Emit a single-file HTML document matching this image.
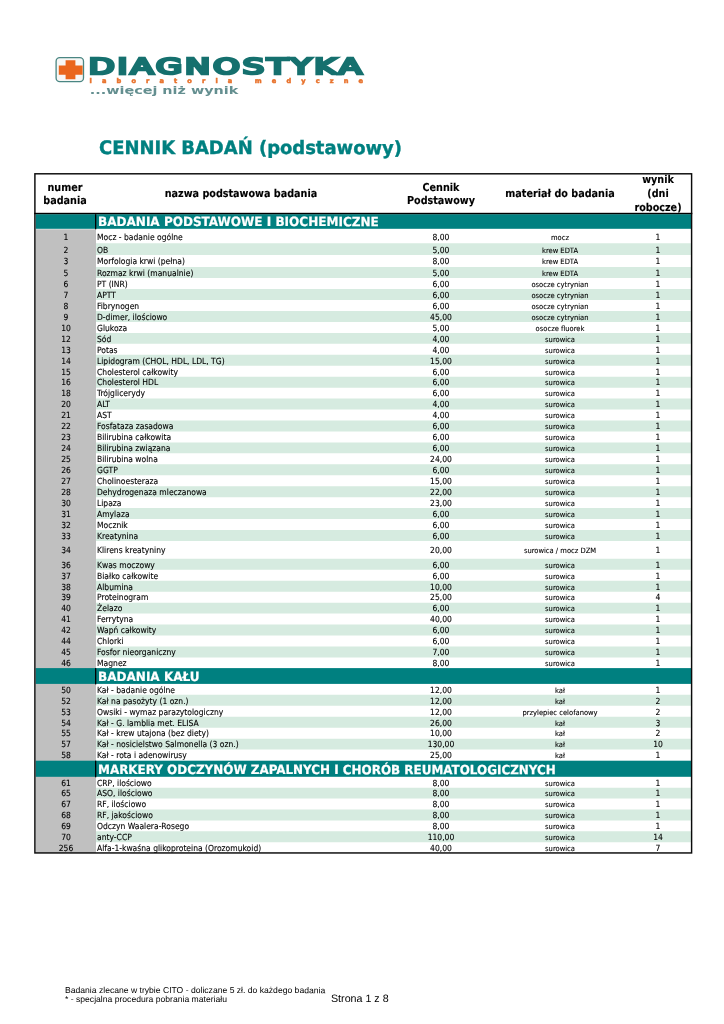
<!DOCTYPE html>
<html lang="pl"><head><meta charset="utf-8"><title>Cennik badań (podstawowy)</title>
<style>
*{margin:0;padding:0;box-sizing:border-box}
html,body{width:724px;height:1024px;background:#fff;overflow:hidden}
body{position:relative;font-family:'DejaVu Sans Condensed','Liberation Sans',sans-serif;color:#000}
#pg{position:absolute;left:0;top:0;width:724px;height:1024px;will-change:transform}
.a{position:absolute}
.t{position:absolute;white-space:nowrap;line-height:1;transform-origin:0 0}
.c{transform-origin:50% 0}
.g{position:absolute;background:#d6ebe0}
.s{position:absolute;background:#008080}
.k{position:absolute;background:#000}
.f0{font-family:'DejaVu Sans Condensed','Liberation Sans',sans-serif;font-weight:bold;font-size:18.6px;color:#008080;-webkit-text-stroke:0.35px #008080}
.f1{font-family:'DejaVu Sans Condensed','Liberation Sans',sans-serif;font-weight:bold;font-size:10.95px;color:#000;-webkit-text-stroke:0.12px #000}
.f2{font-family:'DejaVu Sans Condensed','Liberation Sans',sans-serif;font-weight:bold;font-size:12.75px;color:#fff;-webkit-text-stroke:0.2px #fff}
.f3{font-family:'DejaVu Sans Condensed','Liberation Sans',sans-serif;font-weight:normal;font-size:8.5px;color:#000;-webkit-text-stroke:0.1px #000}
.f4{font-family:'DejaVu Sans Condensed','Liberation Sans',sans-serif;font-weight:normal;font-size:7.3px;color:#000;-webkit-text-stroke:0.1px #000}
.f5{font-family:'Liberation Sans',sans-serif;font-weight:normal;font-size:8.6px;color:#000}
.f6{font-family:'Liberation Sans',sans-serif;font-weight:normal;font-size:10.7px;color:#000}
</style></head>
<body><div id="pg">
<!-- logo -->
<svg class="a" style="left:50px;top:50px" width="330" height="52" viewBox="0 0 330 52">
  <rect x="6.1" y="7.7" width="27.4" height="23.9" rx="3.6" ry="3.6" fill="#f7f7f5" stroke="#4a8683" stroke-width="1.3"/>
  <path d="M15.6 10.2h9.8v5.2h7.2v9.4h-7.2v4.4h-9.8v-4.4H8.8v-9.4h6.8z" fill="#ea661c"/>
  <text x="38.7" y="23.5" font-family="'DejaVu Sans','Liberation Sans',sans-serif" font-weight="normal" font-size="20.8" fill="#15706e" stroke="#15706e" stroke-width="2.7" stroke-linejoin="miter" letter-spacing="1.9" textLength="276.2" lengthAdjust="spacingAndGlyphs">DIAGNOSTYKA</text>
  <text x="39.6" y="32.5" font-family="'DejaVu Sans','Liberation Sans',sans-serif" font-weight="bold" font-size="6.6" fill="#e8722c" stroke="#e8722c" stroke-width="0.5" textLength="273.5" lengthAdjust="spacing">laboratoria medyczne</text>
  <text x="39.8" y="43.5" font-family="'DejaVu Sans','Liberation Sans',sans-serif" font-weight="bold" font-size="10.4" fill="#648f90" textLength="148.5" lengthAdjust="spacingAndGlyphs">...więcej niż wynik</text>
</svg>

<svg class="a" style="left:0;top:0" width="724" height="1024" viewBox="0 0 724 1024"><rect x="35.7" y="229.3" width="60.30" height="623.70" fill="#c0c0c0"/><path d="M96.0 243.30H690.9v11.60H96.0zM96.0 266.90H690.9v11.00H96.0zM96.0 289.10H690.9v10.95H96.0zM96.0 311.00H690.9v10.95H96.0zM96.0 332.90H690.9v10.95H96.0zM96.0 354.80H690.9v10.95H96.0zM96.0 376.70H690.9v10.95H96.0zM96.0 398.60H690.9v10.95H96.0zM96.0 420.50H690.9v10.95H96.0zM96.0 442.40H690.9v10.95H96.0zM96.0 464.30H690.9v10.95H96.0zM96.0 486.20H690.9v10.95H96.0zM96.0 508.10H690.9v10.95H96.0zM96.0 530.00H690.9v10.95H96.0zM96.0 558.85H690.9v10.95H96.0zM96.0 580.75H690.9v10.95H96.0zM96.0 602.65H690.9v10.95H96.0zM96.0 624.55H690.9v10.95H96.0zM96.0 646.45H690.9v10.95H96.0zM96.0 694.85H690.9v10.95H96.0zM96.0 716.75H690.9v10.95H96.0zM96.0 738.65H690.9v10.95H96.0zM96.0 787.70H690.9v10.90H96.0zM96.0 809.50H690.9v10.90H96.0zM96.0 831.30H690.9v10.90H96.0z" fill="#d6ebe0"/><rect x="35.7" y="214.20" width="655.40" height="14.60" fill="#008080"/><rect x="95.0" y="214.20" width="1.3" height="15.10" fill="#000"/><rect x="35.7" y="668.10" width="655.40" height="15.80" fill="#008080"/><rect x="95.0" y="668.10" width="1.3" height="16.30" fill="#000"/><rect x="35.7" y="760.70" width="655.40" height="16.10" fill="#008080"/><rect x="95.0" y="760.70" width="1.3" height="16.60" fill="#000"/><rect x="34.90" y="173.8" width="656.70" height="679.15" fill="none" stroke="#0a0a0a" stroke-width="1.45"/><rect x="34.2" y="212.8" width="658.10" height="1.4" fill="#000"/></svg>
<div class="t f0" style="left:98.6px;top:139px;transform:rotate(.03deg) scaleX(1.073)">CENNIK BADAŃ (podstawowy)</div>
<div class="t c f1" style="left:65.1px;top:183px;transform:translateX(-50%) rotate(.03deg) scaleX(0.978)">numer</div>
<div class="t c f1" style="left:65.1px;top:196px;transform:translateX(-50%) rotate(.03deg) scaleX(0.978)">badania</div>
<div class="t c f1" style="left:241.3px;top:189px;transform:translateX(-50%) rotate(.03deg) scaleX(0.978)">nazwa podstawowa badania</div>
<div class="t c f1" style="left:441.0px;top:183px;transform:translateX(-50%) rotate(.03deg) scaleX(0.978)">Cennik</div>
<div class="t c f1" style="left:441.0px;top:196px;transform:translateX(-50%) rotate(.03deg) scaleX(0.978)">Podstawowy</div>
<div class="t c f1" style="left:559.7px;top:189px;transform:translateX(-50%) rotate(.03deg) scaleX(0.978)">materiał do badania</div>
<div class="t c f1" style="left:658.4px;top:175px;transform:translateX(-50%) rotate(.03deg) scaleX(0.978)">wynik</div>
<div class="t c f1" style="left:658.4px;top:189px;transform:translateX(-50%) rotate(.03deg) scaleX(0.978)">(dni</div>
<div class="t c f1" style="left:658.4px;top:203px;transform:translateX(-50%) rotate(.03deg) scaleX(0.978)">robocze)</div>
<div class="t f2" style="left:98.0px;top:216px;transform:rotate(.03deg) scaleX(1.05)">BADANIA PODSTAWOWE I BIOCHEMICZNE</div>
<div class="t f2" style="left:98.0px;top:671px;transform:rotate(.03deg) scaleX(1.05)">BADANIA KAŁU</div>
<div class="t f2" style="left:98.0px;top:764px;transform:rotate(.03deg) scaleX(1.042)">MARKERY ODCZYNÓW ZAPALNYCH I CHORÓB REUMATOLOGICZNYCH</div>
<div class="t c f3" style="left:65.6px;top:233px;transform:translateX(-50%) rotate(.03deg) scaleX(0.995)">1</div>
<div class="t f3" style="left:96.9px;top:233px;transform:rotate(.03deg) scaleX(0.995)">Mocz - badanie ogólne</div>
<div class="t c f3" style="left:441.0px;top:233px;transform:translateX(-50%) rotate(.03deg) scaleX(0.995)">8,00</div>
<div class="t c f4" style="left:559.7px;top:234px;transform:translateX(-50%) rotate(.03deg) scaleX(1.03)">mocz</div>
<div class="t c f3" style="left:658.4px;top:233px;transform:translateX(-50%) rotate(.03deg) scaleX(0.995)">1</div>
<div class="t c f3" style="left:65.6px;top:246px;transform:translateX(-50%) rotate(.03deg) scaleX(0.995)">2</div>
<div class="t f3" style="left:96.9px;top:246px;transform:rotate(.03deg) scaleX(0.995)">OB</div>
<div class="t c f3" style="left:441.0px;top:246px;transform:translateX(-50%) rotate(.03deg) scaleX(0.995)">5,00</div>
<div class="t c f4" style="left:559.7px;top:247px;transform:translateX(-50%) rotate(.03deg) scaleX(1.03)">krew EDTA</div>
<div class="t c f3" style="left:658.4px;top:246px;transform:translateX(-50%) rotate(.03deg) scaleX(0.995)">1</div>
<div class="t c f3" style="left:65.6px;top:257px;transform:translateX(-50%) rotate(.03deg) scaleX(0.995)">3</div>
<div class="t f3" style="left:96.9px;top:257px;transform:rotate(.03deg) scaleX(0.995)">Morfologia krwi (pełna)</div>
<div class="t c f3" style="left:441.0px;top:257px;transform:translateX(-50%) rotate(.03deg) scaleX(0.995)">8,00</div>
<div class="t c f4" style="left:559.7px;top:258px;transform:translateX(-50%) rotate(.03deg) scaleX(1.03)">krew EDTA</div>
<div class="t c f3" style="left:658.4px;top:257px;transform:translateX(-50%) rotate(.03deg) scaleX(0.995)">1</div>
<div class="t c f3" style="left:65.6px;top:269px;transform:translateX(-50%) rotate(.03deg) scaleX(0.995)">5</div>
<div class="t f3" style="left:96.9px;top:269px;transform:rotate(.03deg) scaleX(0.995)">Rozmaz krwi (manualnie)</div>
<div class="t c f3" style="left:441.0px;top:269px;transform:translateX(-50%) rotate(.03deg) scaleX(0.995)">5,00</div>
<div class="t c f4" style="left:559.7px;top:270px;transform:translateX(-50%) rotate(.03deg) scaleX(1.03)">krew EDTA</div>
<div class="t c f3" style="left:658.4px;top:269px;transform:translateX(-50%) rotate(.03deg) scaleX(0.995)">1</div>
<div class="t c f3" style="left:65.6px;top:280px;transform:translateX(-50%) rotate(.03deg) scaleX(0.995)">6</div>
<div class="t f3" style="left:96.9px;top:280px;transform:rotate(.03deg) scaleX(0.995)">PT (INR)</div>
<div class="t c f3" style="left:441.0px;top:280px;transform:translateX(-50%) rotate(.03deg) scaleX(0.995)">6,00</div>
<div class="t c f4" style="left:559.7px;top:281px;transform:translateX(-50%) rotate(.03deg) scaleX(1.03)">osocze cytrynian</div>
<div class="t c f3" style="left:658.4px;top:280px;transform:translateX(-50%) rotate(.03deg) scaleX(0.995)">1</div>
<div class="t c f3" style="left:65.6px;top:291px;transform:translateX(-50%) rotate(.03deg) scaleX(0.995)">7</div>
<div class="t f3" style="left:96.9px;top:291px;transform:rotate(.03deg) scaleX(0.995)">APTT</div>
<div class="t c f3" style="left:441.0px;top:291px;transform:translateX(-50%) rotate(.03deg) scaleX(0.995)">6,00</div>
<div class="t c f4" style="left:559.7px;top:292px;transform:translateX(-50%) rotate(.03deg) scaleX(1.03)">osocze cytrynian</div>
<div class="t c f3" style="left:658.4px;top:291px;transform:translateX(-50%) rotate(.03deg) scaleX(0.995)">1</div>
<div class="t c f3" style="left:65.6px;top:302px;transform:translateX(-50%) rotate(.03deg) scaleX(0.995)">8</div>
<div class="t f3" style="left:96.9px;top:302px;transform:rotate(.03deg) scaleX(0.995)">Fibrynogen</div>
<div class="t c f3" style="left:441.0px;top:302px;transform:translateX(-50%) rotate(.03deg) scaleX(0.995)">6,00</div>
<div class="t c f4" style="left:559.7px;top:303px;transform:translateX(-50%) rotate(.03deg) scaleX(1.03)">osocze cytrynian</div>
<div class="t c f3" style="left:658.4px;top:302px;transform:translateX(-50%) rotate(.03deg) scaleX(0.995)">1</div>
<div class="t c f3" style="left:65.6px;top:313px;transform:translateX(-50%) rotate(.03deg) scaleX(0.995)">9</div>
<div class="t f3" style="left:96.9px;top:313px;transform:rotate(.03deg) scaleX(0.995)">D-dimer, ilościowo</div>
<div class="t c f3" style="left:441.0px;top:313px;transform:translateX(-50%) rotate(.03deg) scaleX(0.995)">45,00</div>
<div class="t c f4" style="left:559.7px;top:314px;transform:translateX(-50%) rotate(.03deg) scaleX(1.03)">osocze cytrynian</div>
<div class="t c f3" style="left:658.4px;top:313px;transform:translateX(-50%) rotate(.03deg) scaleX(0.995)">1</div>
<div class="t c f3" style="left:65.6px;top:324px;transform:translateX(-50%) rotate(.03deg) scaleX(0.995)">10</div>
<div class="t f3" style="left:96.9px;top:324px;transform:rotate(.03deg) scaleX(0.995)">Glukoza</div>
<div class="t c f3" style="left:441.0px;top:324px;transform:translateX(-50%) rotate(.03deg) scaleX(0.995)">5,00</div>
<div class="t c f4" style="left:559.7px;top:325px;transform:translateX(-50%) rotate(.03deg) scaleX(1.03)">osocze fluorek</div>
<div class="t c f3" style="left:658.4px;top:324px;transform:translateX(-50%) rotate(.03deg) scaleX(0.995)">1</div>
<div class="t c f3" style="left:65.6px;top:335px;transform:translateX(-50%) rotate(.03deg) scaleX(0.995)">12</div>
<div class="t f3" style="left:96.9px;top:335px;transform:rotate(.03deg) scaleX(0.995)">Sód</div>
<div class="t c f3" style="left:441.0px;top:335px;transform:translateX(-50%) rotate(.03deg) scaleX(0.995)">4,00</div>
<div class="t c f4" style="left:559.7px;top:336px;transform:translateX(-50%) rotate(.03deg) scaleX(1.03)">surowica</div>
<div class="t c f3" style="left:658.4px;top:335px;transform:translateX(-50%) rotate(.03deg) scaleX(0.995)">1</div>
<div class="t c f3" style="left:65.6px;top:346px;transform:translateX(-50%) rotate(.03deg) scaleX(0.995)">13</div>
<div class="t f3" style="left:96.9px;top:346px;transform:rotate(.03deg) scaleX(0.995)">Potas</div>
<div class="t c f3" style="left:441.0px;top:346px;transform:translateX(-50%) rotate(.03deg) scaleX(0.995)">4,00</div>
<div class="t c f4" style="left:559.7px;top:347px;transform:translateX(-50%) rotate(.03deg) scaleX(1.03)">surowica</div>
<div class="t c f3" style="left:658.4px;top:346px;transform:translateX(-50%) rotate(.03deg) scaleX(0.995)">1</div>
<div class="t c f3" style="left:65.6px;top:357px;transform:translateX(-50%) rotate(.03deg) scaleX(0.995)">14</div>
<div class="t f3" style="left:96.9px;top:357px;transform:rotate(.03deg) scaleX(0.995)">Lipidogram (CHOL, HDL, LDL, TG)</div>
<div class="t c f3" style="left:441.0px;top:357px;transform:translateX(-50%) rotate(.03deg) scaleX(0.995)">15,00</div>
<div class="t c f4" style="left:559.7px;top:358px;transform:translateX(-50%) rotate(.03deg) scaleX(1.03)">surowica</div>
<div class="t c f3" style="left:658.4px;top:357px;transform:translateX(-50%) rotate(.03deg) scaleX(0.995)">1</div>
<div class="t c f3" style="left:65.6px;top:368px;transform:translateX(-50%) rotate(.03deg) scaleX(0.995)">15</div>
<div class="t f3" style="left:96.9px;top:368px;transform:rotate(.03deg) scaleX(0.995)">Cholesterol całkowity</div>
<div class="t c f3" style="left:441.0px;top:368px;transform:translateX(-50%) rotate(.03deg) scaleX(0.995)">6,00</div>
<div class="t c f4" style="left:559.7px;top:369px;transform:translateX(-50%) rotate(.03deg) scaleX(1.03)">surowica</div>
<div class="t c f3" style="left:658.4px;top:368px;transform:translateX(-50%) rotate(.03deg) scaleX(0.995)">1</div>
<div class="t c f3" style="left:65.6px;top:378px;transform:translateX(-50%) rotate(.03deg) scaleX(0.995)">16</div>
<div class="t f3" style="left:96.9px;top:378px;transform:rotate(.03deg) scaleX(0.995)">Cholesterol HDL</div>
<div class="t c f3" style="left:441.0px;top:378px;transform:translateX(-50%) rotate(.03deg) scaleX(0.995)">6,00</div>
<div class="t c f4" style="left:559.7px;top:379px;transform:translateX(-50%) rotate(.03deg) scaleX(1.03)">surowica</div>
<div class="t c f3" style="left:658.4px;top:378px;transform:translateX(-50%) rotate(.03deg) scaleX(0.995)">1</div>
<div class="t c f3" style="left:65.6px;top:389px;transform:translateX(-50%) rotate(.03deg) scaleX(0.995)">18</div>
<div class="t f3" style="left:96.9px;top:389px;transform:rotate(.03deg) scaleX(0.995)">Trójglicerydy</div>
<div class="t c f3" style="left:441.0px;top:389px;transform:translateX(-50%) rotate(.03deg) scaleX(0.995)">6,00</div>
<div class="t c f4" style="left:559.7px;top:390px;transform:translateX(-50%) rotate(.03deg) scaleX(1.03)">surowica</div>
<div class="t c f3" style="left:658.4px;top:389px;transform:translateX(-50%) rotate(.03deg) scaleX(0.995)">1</div>
<div class="t c f3" style="left:65.6px;top:400px;transform:translateX(-50%) rotate(.03deg) scaleX(0.995)">20</div>
<div class="t f3" style="left:96.9px;top:400px;transform:rotate(.03deg) scaleX(0.995)">ALT</div>
<div class="t c f3" style="left:441.0px;top:400px;transform:translateX(-50%) rotate(.03deg) scaleX(0.995)">4,00</div>
<div class="t c f4" style="left:559.7px;top:401px;transform:translateX(-50%) rotate(.03deg) scaleX(1.03)">surowica</div>
<div class="t c f3" style="left:658.4px;top:400px;transform:translateX(-50%) rotate(.03deg) scaleX(0.995)">1</div>
<div class="t c f3" style="left:65.6px;top:411px;transform:translateX(-50%) rotate(.03deg) scaleX(0.995)">21</div>
<div class="t f3" style="left:96.9px;top:411px;transform:rotate(.03deg) scaleX(0.995)">AST</div>
<div class="t c f3" style="left:441.0px;top:411px;transform:translateX(-50%) rotate(.03deg) scaleX(0.995)">4,00</div>
<div class="t c f4" style="left:559.7px;top:412px;transform:translateX(-50%) rotate(.03deg) scaleX(1.03)">surowica</div>
<div class="t c f3" style="left:658.4px;top:411px;transform:translateX(-50%) rotate(.03deg) scaleX(0.995)">1</div>
<div class="t c f3" style="left:65.6px;top:422px;transform:translateX(-50%) rotate(.03deg) scaleX(0.995)">22</div>
<div class="t f3" style="left:96.9px;top:422px;transform:rotate(.03deg) scaleX(0.995)">Fosfataza zasadowa</div>
<div class="t c f3" style="left:441.0px;top:422px;transform:translateX(-50%) rotate(.03deg) scaleX(0.995)">6,00</div>
<div class="t c f4" style="left:559.7px;top:423px;transform:translateX(-50%) rotate(.03deg) scaleX(1.03)">surowica</div>
<div class="t c f3" style="left:658.4px;top:422px;transform:translateX(-50%) rotate(.03deg) scaleX(0.995)">1</div>
<div class="t c f3" style="left:65.6px;top:433px;transform:translateX(-50%) rotate(.03deg) scaleX(0.995)">23</div>
<div class="t f3" style="left:96.9px;top:433px;transform:rotate(.03deg) scaleX(0.995)">Bilirubina całkowita</div>
<div class="t c f3" style="left:441.0px;top:433px;transform:translateX(-50%) rotate(.03deg) scaleX(0.995)">6,00</div>
<div class="t c f4" style="left:559.7px;top:434px;transform:translateX(-50%) rotate(.03deg) scaleX(1.03)">surowica</div>
<div class="t c f3" style="left:658.4px;top:433px;transform:translateX(-50%) rotate(.03deg) scaleX(0.995)">1</div>
<div class="t c f3" style="left:65.6px;top:444px;transform:translateX(-50%) rotate(.03deg) scaleX(0.995)">24</div>
<div class="t f3" style="left:96.9px;top:444px;transform:rotate(.03deg) scaleX(0.995)">Bilirubina związana</div>
<div class="t c f3" style="left:441.0px;top:444px;transform:translateX(-50%) rotate(.03deg) scaleX(0.995)">6,00</div>
<div class="t c f4" style="left:559.7px;top:445px;transform:translateX(-50%) rotate(.03deg) scaleX(1.03)">surowica</div>
<div class="t c f3" style="left:658.4px;top:444px;transform:translateX(-50%) rotate(.03deg) scaleX(0.995)">1</div>
<div class="t c f3" style="left:65.6px;top:455px;transform:translateX(-50%) rotate(.03deg) scaleX(0.995)">25</div>
<div class="t f3" style="left:96.9px;top:455px;transform:rotate(.03deg) scaleX(0.995)">Bilirubina wolna</div>
<div class="t c f3" style="left:441.0px;top:455px;transform:translateX(-50%) rotate(.03deg) scaleX(0.995)">24,00</div>
<div class="t c f4" style="left:559.7px;top:456px;transform:translateX(-50%) rotate(.03deg) scaleX(1.03)">surowica</div>
<div class="t c f3" style="left:658.4px;top:455px;transform:translateX(-50%) rotate(.03deg) scaleX(0.995)">1</div>
<div class="t c f3" style="left:65.6px;top:466px;transform:translateX(-50%) rotate(.03deg) scaleX(0.995)">26</div>
<div class="t f3" style="left:96.9px;top:466px;transform:rotate(.03deg) scaleX(0.995)">GGTP</div>
<div class="t c f3" style="left:441.0px;top:466px;transform:translateX(-50%) rotate(.03deg) scaleX(0.995)">6,00</div>
<div class="t c f4" style="left:559.7px;top:467px;transform:translateX(-50%) rotate(.03deg) scaleX(1.03)">surowica</div>
<div class="t c f3" style="left:658.4px;top:466px;transform:translateX(-50%) rotate(.03deg) scaleX(0.995)">1</div>
<div class="t c f3" style="left:65.6px;top:477px;transform:translateX(-50%) rotate(.03deg) scaleX(0.995)">27</div>
<div class="t f3" style="left:96.9px;top:477px;transform:rotate(.03deg) scaleX(0.995)">Cholinoesteraza</div>
<div class="t c f3" style="left:441.0px;top:477px;transform:translateX(-50%) rotate(.03deg) scaleX(0.995)">15,00</div>
<div class="t c f4" style="left:559.7px;top:478px;transform:translateX(-50%) rotate(.03deg) scaleX(1.03)">surowica</div>
<div class="t c f3" style="left:658.4px;top:477px;transform:translateX(-50%) rotate(.03deg) scaleX(0.995)">1</div>
<div class="t c f3" style="left:65.6px;top:488px;transform:translateX(-50%) rotate(.03deg) scaleX(0.995)">28</div>
<div class="t f3" style="left:96.9px;top:488px;transform:rotate(.03deg) scaleX(0.995)">Dehydrogenaza mleczanowa</div>
<div class="t c f3" style="left:441.0px;top:488px;transform:translateX(-50%) rotate(.03deg) scaleX(0.995)">22,00</div>
<div class="t c f4" style="left:559.7px;top:489px;transform:translateX(-50%) rotate(.03deg) scaleX(1.03)">surowica</div>
<div class="t c f3" style="left:658.4px;top:488px;transform:translateX(-50%) rotate(.03deg) scaleX(0.995)">1</div>
<div class="t c f3" style="left:65.6px;top:499px;transform:translateX(-50%) rotate(.03deg) scaleX(0.995)">30</div>
<div class="t f3" style="left:96.9px;top:499px;transform:rotate(.03deg) scaleX(0.995)">Lipaza</div>
<div class="t c f3" style="left:441.0px;top:499px;transform:translateX(-50%) rotate(.03deg) scaleX(0.995)">23,00</div>
<div class="t c f4" style="left:559.7px;top:500px;transform:translateX(-50%) rotate(.03deg) scaleX(1.03)">surowica</div>
<div class="t c f3" style="left:658.4px;top:499px;transform:translateX(-50%) rotate(.03deg) scaleX(0.995)">1</div>
<div class="t c f3" style="left:65.6px;top:510px;transform:translateX(-50%) rotate(.03deg) scaleX(0.995)">31</div>
<div class="t f3" style="left:96.9px;top:510px;transform:rotate(.03deg) scaleX(0.995)">Amylaza</div>
<div class="t c f3" style="left:441.0px;top:510px;transform:translateX(-50%) rotate(.03deg) scaleX(0.995)">6,00</div>
<div class="t c f4" style="left:559.7px;top:511px;transform:translateX(-50%) rotate(.03deg) scaleX(1.03)">surowica</div>
<div class="t c f3" style="left:658.4px;top:510px;transform:translateX(-50%) rotate(.03deg) scaleX(0.995)">1</div>
<div class="t c f3" style="left:65.6px;top:521px;transform:translateX(-50%) rotate(.03deg) scaleX(0.995)">32</div>
<div class="t f3" style="left:96.9px;top:521px;transform:rotate(.03deg) scaleX(0.995)">Mocznik</div>
<div class="t c f3" style="left:441.0px;top:521px;transform:translateX(-50%) rotate(.03deg) scaleX(0.995)">6,00</div>
<div class="t c f4" style="left:559.7px;top:522px;transform:translateX(-50%) rotate(.03deg) scaleX(1.03)">surowica</div>
<div class="t c f3" style="left:658.4px;top:521px;transform:translateX(-50%) rotate(.03deg) scaleX(0.995)">1</div>
<div class="t c f3" style="left:65.6px;top:532px;transform:translateX(-50%) rotate(.03deg) scaleX(0.995)">33</div>
<div class="t f3" style="left:96.9px;top:532px;transform:rotate(.03deg) scaleX(0.995)">Kreatynina</div>
<div class="t c f3" style="left:441.0px;top:532px;transform:translateX(-50%) rotate(.03deg) scaleX(0.995)">6,00</div>
<div class="t c f4" style="left:559.7px;top:533px;transform:translateX(-50%) rotate(.03deg) scaleX(1.03)">surowica</div>
<div class="t c f3" style="left:658.4px;top:532px;transform:translateX(-50%) rotate(.03deg) scaleX(0.995)">1</div>
<div class="t c f3" style="left:65.6px;top:546px;transform:translateX(-50%) rotate(.03deg) scaleX(0.995)">34</div>
<div class="t f3" style="left:96.9px;top:546px;transform:rotate(.03deg) scaleX(0.995)">Klirens kreatyniny</div>
<div class="t c f3" style="left:441.0px;top:546px;transform:translateX(-50%) rotate(.03deg) scaleX(0.995)">20,00</div>
<div class="t c f4" style="left:559.7px;top:547px;transform:translateX(-50%) rotate(.03deg) scaleX(1.03)">surowica / mocz DZM</div>
<div class="t c f3" style="left:658.4px;top:546px;transform:translateX(-50%) rotate(.03deg) scaleX(0.995)">1</div>
<div class="t c f3" style="left:65.6px;top:561px;transform:translateX(-50%) rotate(.03deg) scaleX(0.995)">36</div>
<div class="t f3" style="left:96.9px;top:561px;transform:rotate(.03deg) scaleX(0.995)">Kwas moczowy</div>
<div class="t c f3" style="left:441.0px;top:561px;transform:translateX(-50%) rotate(.03deg) scaleX(0.995)">6,00</div>
<div class="t c f4" style="left:559.7px;top:562px;transform:translateX(-50%) rotate(.03deg) scaleX(1.03)">surowica</div>
<div class="t c f3" style="left:658.4px;top:561px;transform:translateX(-50%) rotate(.03deg) scaleX(0.995)">1</div>
<div class="t c f3" style="left:65.6px;top:572px;transform:translateX(-50%) rotate(.03deg) scaleX(0.995)">37</div>
<div class="t f3" style="left:96.9px;top:572px;transform:rotate(.03deg) scaleX(0.995)">Białko całkowite</div>
<div class="t c f3" style="left:441.0px;top:572px;transform:translateX(-50%) rotate(.03deg) scaleX(0.995)">6,00</div>
<div class="t c f4" style="left:559.7px;top:573px;transform:translateX(-50%) rotate(.03deg) scaleX(1.03)">surowica</div>
<div class="t c f3" style="left:658.4px;top:572px;transform:translateX(-50%) rotate(.03deg) scaleX(0.995)">1</div>
<div class="t c f3" style="left:65.6px;top:583px;transform:translateX(-50%) rotate(.03deg) scaleX(0.995)">38</div>
<div class="t f3" style="left:96.9px;top:583px;transform:rotate(.03deg) scaleX(0.995)">Albumina</div>
<div class="t c f3" style="left:441.0px;top:583px;transform:translateX(-50%) rotate(.03deg) scaleX(0.995)">10,00</div>
<div class="t c f4" style="left:559.7px;top:584px;transform:translateX(-50%) rotate(.03deg) scaleX(1.03)">surowica</div>
<div class="t c f3" style="left:658.4px;top:583px;transform:translateX(-50%) rotate(.03deg) scaleX(0.995)">1</div>
<div class="t c f3" style="left:65.6px;top:593px;transform:translateX(-50%) rotate(.03deg) scaleX(0.995)">39</div>
<div class="t f3" style="left:96.9px;top:593px;transform:rotate(.03deg) scaleX(0.995)">Proteinogram</div>
<div class="t c f3" style="left:441.0px;top:593px;transform:translateX(-50%) rotate(.03deg) scaleX(0.995)">25,00</div>
<div class="t c f4" style="left:559.7px;top:594px;transform:translateX(-50%) rotate(.03deg) scaleX(1.03)">surowica</div>
<div class="t c f3" style="left:658.4px;top:593px;transform:translateX(-50%) rotate(.03deg) scaleX(0.995)">4</div>
<div class="t c f3" style="left:65.6px;top:604px;transform:translateX(-50%) rotate(.03deg) scaleX(0.995)">40</div>
<div class="t f3" style="left:96.9px;top:604px;transform:rotate(.03deg) scaleX(0.995)">Żelazo</div>
<div class="t c f3" style="left:441.0px;top:604px;transform:translateX(-50%) rotate(.03deg) scaleX(0.995)">6,00</div>
<div class="t c f4" style="left:559.7px;top:605px;transform:translateX(-50%) rotate(.03deg) scaleX(1.03)">surowica</div>
<div class="t c f3" style="left:658.4px;top:604px;transform:translateX(-50%) rotate(.03deg) scaleX(0.995)">1</div>
<div class="t c f3" style="left:65.6px;top:615px;transform:translateX(-50%) rotate(.03deg) scaleX(0.995)">41</div>
<div class="t f3" style="left:96.9px;top:615px;transform:rotate(.03deg) scaleX(0.995)">Ferrytyna</div>
<div class="t c f3" style="left:441.0px;top:615px;transform:translateX(-50%) rotate(.03deg) scaleX(0.995)">40,00</div>
<div class="t c f4" style="left:559.7px;top:616px;transform:translateX(-50%) rotate(.03deg) scaleX(1.03)">surowica</div>
<div class="t c f3" style="left:658.4px;top:615px;transform:translateX(-50%) rotate(.03deg) scaleX(0.995)">1</div>
<div class="t c f3" style="left:65.6px;top:626px;transform:translateX(-50%) rotate(.03deg) scaleX(0.995)">42</div>
<div class="t f3" style="left:96.9px;top:626px;transform:rotate(.03deg) scaleX(0.995)">Wapń całkowity</div>
<div class="t c f3" style="left:441.0px;top:626px;transform:translateX(-50%) rotate(.03deg) scaleX(0.995)">6,00</div>
<div class="t c f4" style="left:559.7px;top:627px;transform:translateX(-50%) rotate(.03deg) scaleX(1.03)">surowica</div>
<div class="t c f3" style="left:658.4px;top:626px;transform:translateX(-50%) rotate(.03deg) scaleX(0.995)">1</div>
<div class="t c f3" style="left:65.6px;top:637px;transform:translateX(-50%) rotate(.03deg) scaleX(0.995)">44</div>
<div class="t f3" style="left:96.9px;top:637px;transform:rotate(.03deg) scaleX(0.995)">Chlorki</div>
<div class="t c f3" style="left:441.0px;top:637px;transform:translateX(-50%) rotate(.03deg) scaleX(0.995)">6,00</div>
<div class="t c f4" style="left:559.7px;top:638px;transform:translateX(-50%) rotate(.03deg) scaleX(1.03)">surowica</div>
<div class="t c f3" style="left:658.4px;top:637px;transform:translateX(-50%) rotate(.03deg) scaleX(0.995)">1</div>
<div class="t c f3" style="left:65.6px;top:648px;transform:translateX(-50%) rotate(.03deg) scaleX(0.995)">45</div>
<div class="t f3" style="left:96.9px;top:648px;transform:rotate(.03deg) scaleX(0.995)">Fosfor nieorganiczny</div>
<div class="t c f3" style="left:441.0px;top:648px;transform:translateX(-50%) rotate(.03deg) scaleX(0.995)">7,00</div>
<div class="t c f4" style="left:559.7px;top:649px;transform:translateX(-50%) rotate(.03deg) scaleX(1.03)">surowica</div>
<div class="t c f3" style="left:658.4px;top:648px;transform:translateX(-50%) rotate(.03deg) scaleX(0.995)">1</div>
<div class="t c f3" style="left:65.6px;top:659px;transform:translateX(-50%) rotate(.03deg) scaleX(0.995)">46</div>
<div class="t f3" style="left:96.9px;top:659px;transform:rotate(.03deg) scaleX(0.995)">Magnez</div>
<div class="t c f3" style="left:441.0px;top:659px;transform:translateX(-50%) rotate(.03deg) scaleX(0.995)">8,00</div>
<div class="t c f4" style="left:559.7px;top:660px;transform:translateX(-50%) rotate(.03deg) scaleX(1.03)">surowica</div>
<div class="t c f3" style="left:658.4px;top:659px;transform:translateX(-50%) rotate(.03deg) scaleX(0.995)">1</div>
<div class="t c f3" style="left:65.6px;top:686px;transform:translateX(-50%) rotate(.03deg) scaleX(0.995)">50</div>
<div class="t f3" style="left:96.9px;top:686px;transform:rotate(.03deg) scaleX(0.995)">Kał - badanie ogólne</div>
<div class="t c f3" style="left:441.0px;top:686px;transform:translateX(-50%) rotate(.03deg) scaleX(0.995)">12,00</div>
<div class="t c f4" style="left:559.7px;top:687px;transform:translateX(-50%) rotate(.03deg) scaleX(1.03)">kał</div>
<div class="t c f3" style="left:658.4px;top:686px;transform:translateX(-50%) rotate(.03deg) scaleX(0.995)">1</div>
<div class="t c f3" style="left:65.6px;top:697px;transform:translateX(-50%) rotate(.03deg) scaleX(0.995)">52</div>
<div class="t f3" style="left:96.9px;top:697px;transform:rotate(.03deg) scaleX(0.995)">Kał na pasożyty (1 ozn.)</div>
<div class="t c f3" style="left:441.0px;top:697px;transform:translateX(-50%) rotate(.03deg) scaleX(0.995)">12,00</div>
<div class="t c f4" style="left:559.7px;top:698px;transform:translateX(-50%) rotate(.03deg) scaleX(1.03)">kał</div>
<div class="t c f3" style="left:658.4px;top:697px;transform:translateX(-50%) rotate(.03deg) scaleX(0.995)">2</div>
<div class="t c f3" style="left:65.6px;top:708px;transform:translateX(-50%) rotate(.03deg) scaleX(0.995)">53</div>
<div class="t f3" style="left:96.9px;top:708px;transform:rotate(.03deg) scaleX(0.995)">Owsiki - wymaz parazytologiczny</div>
<div class="t c f3" style="left:441.0px;top:708px;transform:translateX(-50%) rotate(.03deg) scaleX(0.995)">12,00</div>
<div class="t c f4" style="left:559.7px;top:709px;transform:translateX(-50%) rotate(.03deg) scaleX(1.03)">przylepiec celofanowy</div>
<div class="t c f3" style="left:658.4px;top:708px;transform:translateX(-50%) rotate(.03deg) scaleX(0.995)">2</div>
<div class="t c f3" style="left:65.6px;top:719px;transform:translateX(-50%) rotate(.03deg) scaleX(0.995)">54</div>
<div class="t f3" style="left:96.9px;top:719px;transform:rotate(.03deg) scaleX(0.995)">Kał - G. lamblia met. ELISA</div>
<div class="t c f3" style="left:441.0px;top:719px;transform:translateX(-50%) rotate(.03deg) scaleX(0.995)">26,00</div>
<div class="t c f4" style="left:559.7px;top:720px;transform:translateX(-50%) rotate(.03deg) scaleX(1.03)">kał</div>
<div class="t c f3" style="left:658.4px;top:719px;transform:translateX(-50%) rotate(.03deg) scaleX(0.995)">3</div>
<div class="t c f3" style="left:65.6px;top:729px;transform:translateX(-50%) rotate(.03deg) scaleX(0.995)">55</div>
<div class="t f3" style="left:96.9px;top:729px;transform:rotate(.03deg) scaleX(0.995)">Kał - krew utajona (bez diety)</div>
<div class="t c f3" style="left:441.0px;top:729px;transform:translateX(-50%) rotate(.03deg) scaleX(0.995)">10,00</div>
<div class="t c f4" style="left:559.7px;top:730px;transform:translateX(-50%) rotate(.03deg) scaleX(1.03)">kał</div>
<div class="t c f3" style="left:658.4px;top:729px;transform:translateX(-50%) rotate(.03deg) scaleX(0.995)">2</div>
<div class="t c f3" style="left:65.6px;top:740px;transform:translateX(-50%) rotate(.03deg) scaleX(0.995)">57</div>
<div class="t f3" style="left:96.9px;top:740px;transform:rotate(.03deg) scaleX(0.995)">Kał - nosicielstwo Salmonella (3 ozn.)</div>
<div class="t c f3" style="left:441.0px;top:740px;transform:translateX(-50%) rotate(.03deg) scaleX(0.995)">130,00</div>
<div class="t c f4" style="left:559.7px;top:741px;transform:translateX(-50%) rotate(.03deg) scaleX(1.03)">kał</div>
<div class="t c f3" style="left:658.4px;top:740px;transform:translateX(-50%) rotate(.03deg) scaleX(0.995)">10</div>
<div class="t c f3" style="left:65.6px;top:751px;transform:translateX(-50%) rotate(.03deg) scaleX(0.995)">58</div>
<div class="t f3" style="left:96.9px;top:751px;transform:rotate(.03deg) scaleX(0.995)">Kał - rota i adenowirusy</div>
<div class="t c f3" style="left:441.0px;top:751px;transform:translateX(-50%) rotate(.03deg) scaleX(0.995)">25,00</div>
<div class="t c f4" style="left:559.7px;top:752px;transform:translateX(-50%) rotate(.03deg) scaleX(1.03)">kał</div>
<div class="t c f3" style="left:658.4px;top:751px;transform:translateX(-50%) rotate(.03deg) scaleX(0.995)">1</div>
<div class="t c f3" style="left:65.6px;top:779px;transform:translateX(-50%) rotate(.03deg) scaleX(0.995)">61</div>
<div class="t f3" style="left:96.9px;top:779px;transform:rotate(.03deg) scaleX(0.995)">CRP, ilościowo</div>
<div class="t c f3" style="left:441.0px;top:779px;transform:translateX(-50%) rotate(.03deg) scaleX(0.995)">8,00</div>
<div class="t c f4" style="left:559.7px;top:780px;transform:translateX(-50%) rotate(.03deg) scaleX(1.03)">surowica</div>
<div class="t c f3" style="left:658.4px;top:779px;transform:translateX(-50%) rotate(.03deg) scaleX(0.995)">1</div>
<div class="t c f3" style="left:65.6px;top:789px;transform:translateX(-50%) rotate(.03deg) scaleX(0.995)">65</div>
<div class="t f3" style="left:96.9px;top:789px;transform:rotate(.03deg) scaleX(0.995)">ASO, ilościowo</div>
<div class="t c f3" style="left:441.0px;top:789px;transform:translateX(-50%) rotate(.03deg) scaleX(0.995)">8,00</div>
<div class="t c f4" style="left:559.7px;top:790px;transform:translateX(-50%) rotate(.03deg) scaleX(1.03)">surowica</div>
<div class="t c f3" style="left:658.4px;top:789px;transform:translateX(-50%) rotate(.03deg) scaleX(0.995)">1</div>
<div class="t c f3" style="left:65.6px;top:800px;transform:translateX(-50%) rotate(.03deg) scaleX(0.995)">67</div>
<div class="t f3" style="left:96.9px;top:800px;transform:rotate(.03deg) scaleX(0.995)">RF, ilościowo</div>
<div class="t c f3" style="left:441.0px;top:800px;transform:translateX(-50%) rotate(.03deg) scaleX(0.995)">8,00</div>
<div class="t c f4" style="left:559.7px;top:801px;transform:translateX(-50%) rotate(.03deg) scaleX(1.03)">surowica</div>
<div class="t c f3" style="left:658.4px;top:800px;transform:translateX(-50%) rotate(.03deg) scaleX(0.995)">1</div>
<div class="t c f3" style="left:65.6px;top:811px;transform:translateX(-50%) rotate(.03deg) scaleX(0.995)">68</div>
<div class="t f3" style="left:96.9px;top:811px;transform:rotate(.03deg) scaleX(0.995)">RF, jakościowo</div>
<div class="t c f3" style="left:441.0px;top:811px;transform:translateX(-50%) rotate(.03deg) scaleX(0.995)">8,00</div>
<div class="t c f4" style="left:559.7px;top:812px;transform:translateX(-50%) rotate(.03deg) scaleX(1.03)">surowica</div>
<div class="t c f3" style="left:658.4px;top:811px;transform:translateX(-50%) rotate(.03deg) scaleX(0.995)">1</div>
<div class="t c f3" style="left:65.6px;top:822px;transform:translateX(-50%) rotate(.03deg) scaleX(0.995)">69</div>
<div class="t f3" style="left:96.9px;top:822px;transform:rotate(.03deg) scaleX(0.995)">Odczyn Waalera-Rosego</div>
<div class="t c f3" style="left:441.0px;top:822px;transform:translateX(-50%) rotate(.03deg) scaleX(0.995)">8,00</div>
<div class="t c f4" style="left:559.7px;top:823px;transform:translateX(-50%) rotate(.03deg) scaleX(1.03)">surowica</div>
<div class="t c f3" style="left:658.4px;top:822px;transform:translateX(-50%) rotate(.03deg) scaleX(0.995)">1</div>
<div class="t c f3" style="left:65.6px;top:833px;transform:translateX(-50%) rotate(.03deg) scaleX(0.995)">70</div>
<div class="t f3" style="left:96.9px;top:833px;transform:rotate(.03deg) scaleX(0.995)">anty-CCP</div>
<div class="t c f3" style="left:441.0px;top:833px;transform:translateX(-50%) rotate(.03deg) scaleX(0.995)">110,00</div>
<div class="t c f4" style="left:559.7px;top:834px;transform:translateX(-50%) rotate(.03deg) scaleX(1.03)">surowica</div>
<div class="t c f3" style="left:658.4px;top:833px;transform:translateX(-50%) rotate(.03deg) scaleX(0.995)">14</div>
<div class="t c f3" style="left:65.6px;top:844px;transform:translateX(-50%) rotate(.03deg) scaleX(0.995)">256</div>
<div class="t f3" style="left:96.9px;top:844px;transform:rotate(.03deg) scaleX(0.995)">Alfa-1-kwaśna glikoproteina (Orozomukoid)</div>
<div class="t c f3" style="left:441.0px;top:844px;transform:translateX(-50%) rotate(.03deg) scaleX(0.995)">40,00</div>
<div class="t c f4" style="left:559.7px;top:845px;transform:translateX(-50%) rotate(.03deg) scaleX(1.03)">surowica</div>
<div class="t c f3" style="left:658.4px;top:844px;transform:translateX(-50%) rotate(.03deg) scaleX(0.995)">7</div>
<div class="t f5" style="left:65.4px;top:986px;transform:rotate(.03deg)">Badania zlecane w trybie CITO - doliczane 5 zł. do każdego badania</div>
<div class="t f5" style="left:65.4px;top:995px;transform:rotate(.03deg)">* - specjalna procedura pobrania materiału</div>
<div class="t f6" style="left:331.4px;top:993px;transform:rotate(.03deg)">Strona 1 z 8</div>
</div></body></html>
